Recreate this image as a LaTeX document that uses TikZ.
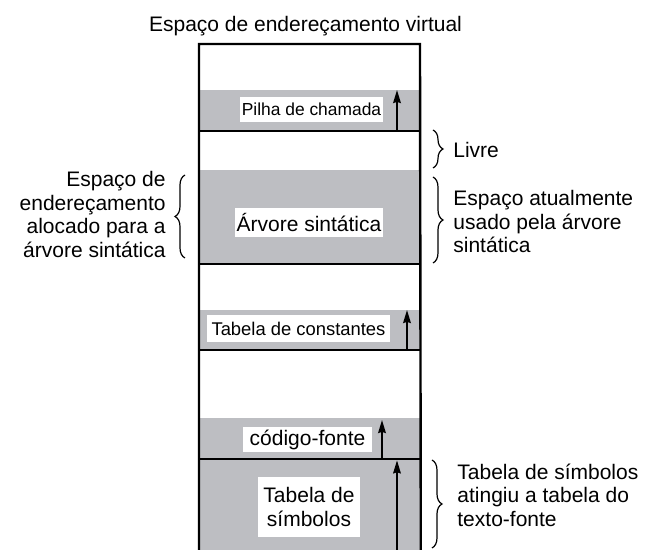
\documentclass[tikz,border=0pt]{standalone}
\usepackage{fontspec}
\setmainfont{Liberation Sans}
\usetikzlibrary{positioning, arrows.meta, decorations.pathreplacing}
\definecolor{memgray}{RGB}{189,190,194}
\tikzset{
  band/.style={fill=memgray, draw=none, minimum width=110.5pt, inner sep=0pt, anchor=north west},
  tag/.style={fill=white, inner sep=0pt, align=center, font=\fontsize{10.5}{11.8}\selectfont},
  note/.style={inner sep=0pt, font=\fontsize{10.5}{11.8}\selectfont},
  wall/.style={line width=1.2pt},
  growarrow/.style={line width=1pt, -{Stealth[length=6.5pt, width=3.8pt, inset=0.6pt]}},
  curly/.style={decorate, line width=0.6pt, decoration={brace, amplitude=5pt}}
}

\begin{document}
\begin{tikzpicture}[x=0.5pt, y=-0.5pt]
  \useasboundingbox (0,0) rectangle (645,550);
  \node[note, anchor=base] (title) at (305.5,32) {Espaço de endereçamento virtual};

  % the used parts of the address space
  \node[band, minimum height=20pt] (pilha) at (199,90) {};
  \node[band, minimum height=46.5pt] (arvore) at (199,170) {};
  \node[band, minimum height=19.5pt] (const) at (199,310) {};
  \node[band, minimum height=20pt] (fonte) at (199,418) {};
  \node[band, minimum height=46pt] (simb) at (199,458) {};

  \draw[wall] (simb.south west) -- (199,44) -- (420,44) -- (simb.south east);
  \foreach \b in {pilha, arvore, const, fonte}
    \draw[wall] (\b.south west) -- (\b.south east);

  % growth arrows
  \draw[growarrow] (pilha.south -| 397,0) -- (pilha.north -| 397,0);
  \draw[growarrow] (const.south -| 407,0) -- (const.north -| 407,0);
  \draw[growarrow] (fonte.south -| 382,0) -- ([yshift=-1pt]fonte.north -| 382,0);
  \draw[growarrow] (simb.south -| 397,0) -- ([yshift=-1.2pt]simb.north -| 397,0);

  \node[tag, minimum width=71.5pt, minimum height=12.5pt, font=\fontsize{8.7}{10}\selectfont] (tpilha) at (311.5,109.5) {Pilha de chamada};
  \node[tag, minimum width=74pt, minimum height=14.5pt] (tarvore) at (309,222.5) {Árvore sintática};
  \node[tag, minimum width=91.5pt, minimum height=13.5pt, font=\fontsize{9.2}{10}\selectfont] (tconst) at (298.5,328.5) {Tabela de constantes};
  \node[tag, minimum width=64.5pt, minimum height=12.5pt] (tfonte) at (307.5,439.5) {código-fonte};
  \node[tag, minimum width=51pt, minimum height=30pt] (tsimb) at (309,507) {Tabela de\\ símbolos};

  % braces and their notes
  \draw[curly] (433,130) -- (433,168);
  \node[note, anchor=west] (livre) at (453,150) {Livre};
  \draw[curly] (433,177) -- (433,263);
  \node[note, anchor=west, align=left] (usado) at (453,221.5) {Espaço atualmente\\ usado pela árvore\\ sintática};
  \draw[curly] (185,258) -- (185,175);
  \node[note, anchor=east, align=right] (alocado) at (166,214.5) {Espaço de\\ endereçamento\\ alocado para a\\ árvore sintática};
  \draw[curly] (432,460) -- (432,548);
  \node[note, anchor=west, align=left] (atingiu) at (457,495) {Tabela de símbolos\\ atingiu a tabela do\\ texto-fonte};
\end{tikzpicture}
\end{document}
